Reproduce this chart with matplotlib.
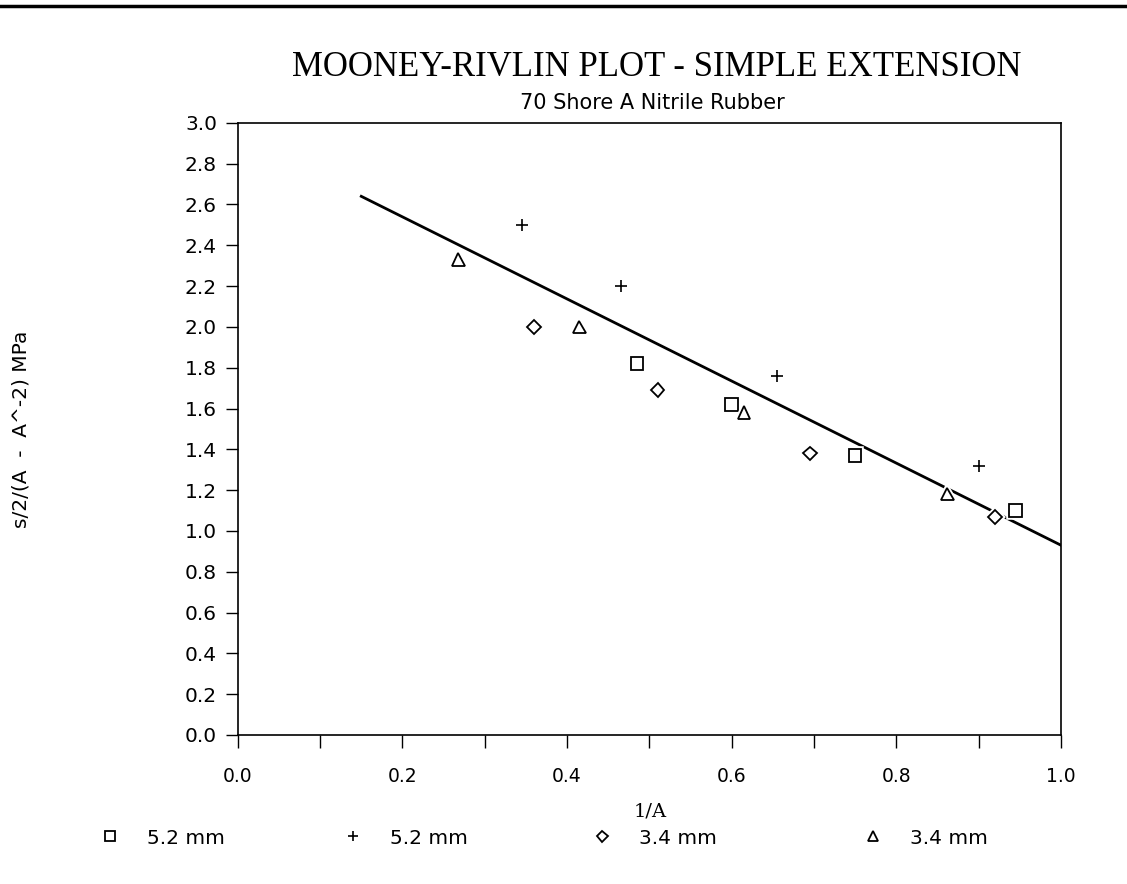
import numpy as np
import matplotlib.pyplot as plt
from matplotlib.lines import Line2D
import matplotlib.patheffects as pe

# data
sq_x = [0.485, 0.600, 0.750, 0.945]
sq_y = [1.82, 1.62, 1.37, 1.10]
pl_x = [0.345, 0.465, 0.655, 0.900]
pl_y = [2.50, 2.20, 1.76, 1.32]
di_x = [0.360, 0.510, 0.695, 0.920]
di_y = [2.00, 1.69, 1.38, 1.07]
tr_x = [0.268, 0.415, 0.615, 0.862]
tr_y = [2.33, 2.00, 1.58, 1.18]
labels = ['5.2 mm', '5.2 mm', '3.4 mm', '3.4 mm']

# fitted line
fit_x = [0.15, 1.0]
fit_y = [2.64, 0.93]

W, H = 1127, 884
fig = plt.figure(figsize=(W / 100, H / 100), dpi=100)
ax = fig.add_axes([0.211, 0.1686, 0.7304, 0.6924])

ax.plot(fit_x, fit_y, color='black', lw=2, zorder=2)

wh = [pe.Stroke(linewidth=4, foreground='white'), pe.Normal()]
ms = 9
h1, = ax.plot(sq_x, sq_y, ls='none', marker='s', ms=ms, mfc='white', mec='black', mew=1.3, zorder=3, path_effects=wh)
h2, = ax.plot(pl_x, pl_y, ls='none', marker='+', ms=ms, mec='black', mew=1.2, zorder=3)
h3, = ax.plot(di_x, di_y, ls='none', marker='D', ms=7, mfc='white', mec='black', mew=1.3, zorder=3, path_effects=wh)
h4, = ax.plot(tr_x, tr_y, ls='none', marker='^', ms=ms, mfc='white', mec='black', mew=1.3, zorder=3, path_effects=wh)

ax.set_xlim(0, 1.0)
ax.set_ylim(0, 3.0)
ax.set_xticks(np.arange(0, 1.01, 0.2))
ax.set_xticks(np.arange(0, 1.01, 0.1), minor=True)
ax.set_yticks(np.arange(0, 3.01, 0.2))
ax.set_xticklabels(['%.1f' % v for v in np.arange(0, 1.01, 0.2)], fontsize=13.5)
ax.set_yticklabels(['%.1f' % v for v in np.arange(0, 3.01, 0.2)], fontsize=14.5)
ax.tick_params(axis='both', direction='out', length=9, width=1, pad=6)
ax.tick_params(axis='x', which='minor', direction='out', length=9, width=1)
ax.tick_params(axis='x', pad=14)
for s in ax.spines.values():
    s.set_linewidth(1.2)

ax.set_ylabel('s/2/(A  -  A^-2) MPa', fontsize=14.5)
ax.yaxis.set_label_coords(-0.2515, 0.5)
fig.text(0.577, 1 - 812 / H, '1/A', ha='center', va='center', fontsize=14, family='DejaVu Serif')

fig.text(0.583, 1 - 68 / H, 'MOONEY-RIVLIN PLOT - SIMPLE EXTENSION', ha='center', va='center',
         fontsize=25, family=['Liberation Serif', 'DejaVu Serif'])
fig.text(0.579, 1 - 103 / H, '70 Shore A Nitrile Rubber', ha='center', va='center', fontsize=15)

# legend entries sit at uneven spacing in the original
leg_x = [110, 353, 602, 873]
for h, lab, x in zip([h1, h2, h3, h4], labels, leg_x):
    fig.legend([h], [lab], loc='center left', bbox_to_anchor=((x - 10) / W, 1 - 838 / H),
               frameon=False, fontsize=14.5, borderpad=0, borderaxespad=0,
               handlelength=1.0, handletextpad=1.35, markerscale=0.8)

# scan border line at the top
fig.add_artist(Line2D([0, 1], [0.993, 0.993], color='black', lw=2.5))

fig.savefig('out.png', dpi=100)
